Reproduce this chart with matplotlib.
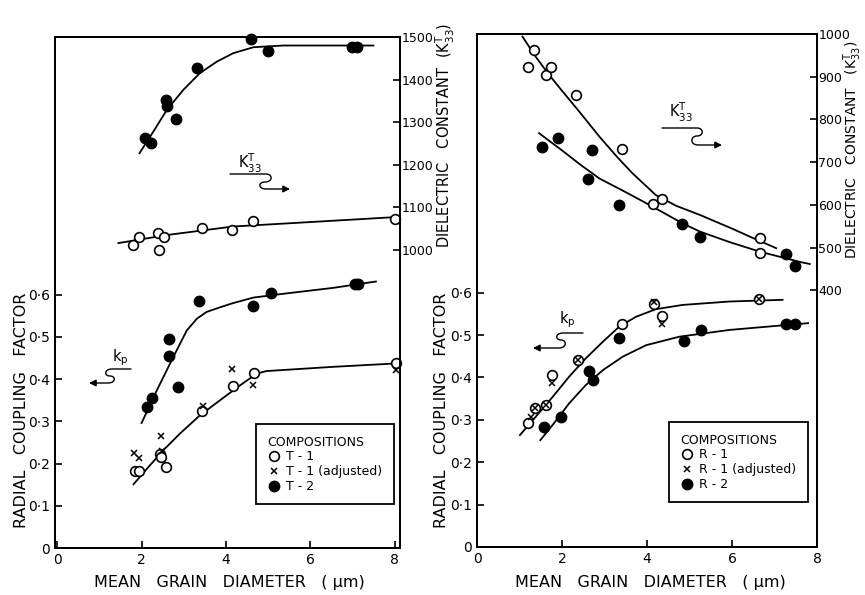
import matplotlib.pyplot as plt
import matplotlib.patches as mpatches
from matplotlib.path import Path

plt.rcParams['font.family'] = ['DejaVu Sans']
plt.rcParams['mathtext.fontset'] = 'dejavusans'

W, H = 865, 595

# ---- left panel (T compositions) ----
t2_k_x = [2.13, 2.25, 2.65, 2.65, 2.86, 3.36, 4.64, 5.07, 7.05, 7.12]
t2_k_y = [0.333, 0.355, 0.494, 0.454, 0.381, 0.584, 0.574, 0.605, 0.624, 0.624]
t1_k_x = [1.85, 1.94, 2.44, 2.46, 2.58, 3.43, 4.17, 4.66, 8.02]
t1_k_y = [0.182, 0.182, 0.222, 0.215, 0.191, 0.324, 0.383, 0.414, 0.437]
t1adj_k_x = [1.83, 1.94, 2.46, 2.49, 3.45, 4.14, 4.64, 8.02]
t1adj_k_y = [0.225, 0.213, 0.265, 0.229, 0.336, 0.423, 0.385, 0.421]
t2_d_x = [2.08, 2.22, 2.58, 2.60, 2.82, 3.31, 4.59, 4.99, 6.98, 7.10]
t2_d_y = [1263, 1251, 1352, 1338, 1307, 1427, 1495, 1467, 1477, 1477]
t1_d_x = [1.80, 1.94, 2.39, 2.41, 2.53, 3.43, 4.14, 4.64, 8.0]
t1_d_y = [1012, 1031, 1040, 1000, 1031, 1052, 1047, 1068, 1073]

# fitted curves
t2_k_cx = [2.00, 2.36, 2.75, 3.07, 3.31, 3.54, 3.86, 4.17, 4.65, 5.36, 6.54, 7.55]
t2_k_cy = [0.296, 0.373, 0.452, 0.515, 0.543, 0.559, 0.570, 0.580, 0.593, 0.602, 0.616, 0.631]
t1_k_cx = [1.81, 2.20, 2.52, 2.91, 3.38, 3.86, 4.33, 4.73, 4.96, 6.54, 8.02]
t1_k_cy = [0.151, 0.196, 0.232, 0.271, 0.314, 0.350, 0.385, 0.413, 0.419, 0.429, 0.437]
t2_d_cx = [1.95, 2.28, 2.60, 2.99, 3.38, 3.78, 4.17, 4.65, 5.36, 7.49]
t2_d_cy = [1227, 1278, 1329, 1376, 1415, 1442, 1462, 1476, 1480, 1480]
t1_d_cx = [1.45, 2.60, 4.17, 5.75, 8.0]
t1_d_cy = [1016, 1035, 1055, 1064, 1077]

# ---- right panel (R compositions) ----
r1_k_x = [1.20, 1.37, 1.63, 1.77, 2.38, 3.42, 4.17, 4.36, 6.63]
r1_k_y = [0.292, 0.327, 0.334, 0.405, 0.442, 0.527, 0.572, 0.544, 0.586]
r1adj_k_x = [1.27, 1.37, 1.63, 1.77, 2.38, 4.17, 4.36, 6.63]
r1adj_k_y = [0.306, 0.327, 0.334, 0.386, 0.442, 0.579, 0.527, 0.586]
r2_k_x = [1.58, 1.98, 2.64, 2.74, 3.35, 4.86, 5.26, 7.26, 7.48]
r2_k_y = [0.282, 0.306, 0.414, 0.395, 0.494, 0.485, 0.513, 0.525, 0.525]
r1_d_x = [1.20, 1.34, 1.63, 1.75, 2.33, 3.42, 4.15, 4.36, 6.67, 6.67]
r1_d_y = [923, 962, 904, 923, 857, 732, 603, 615, 523, 488]
r2_d_x = [1.53, 1.91, 2.62, 2.71, 3.33, 4.83, 5.24, 7.26, 7.48]
r2_d_y = [735, 756, 660, 728, 599, 556, 526, 486, 458]

r1_k_cx = [1.01, 1.38, 1.78, 2.17, 2.56, 2.96, 3.35, 3.74, 4.21, 4.84, 5.94, 7.19]
r1_k_cy = [0.264, 0.307, 0.354, 0.402, 0.445, 0.484, 0.520, 0.543, 0.561, 0.571, 0.579, 0.583]
r2_k_cx = [1.49, 1.78, 2.17, 2.56, 2.96, 3.43, 3.98, 4.76, 5.94, 7.79]
r2_k_cy = [0.252, 0.288, 0.339, 0.382, 0.417, 0.449, 0.476, 0.496, 0.512, 0.528]
r1_d_cx = [1.07, 1.38, 1.70, 2.01, 2.41, 2.88, 3.30, 3.66, 4.21, 4.69, 5.24, 6.02, 6.42, 7.04]
r1_d_cy = [994, 947, 904, 866, 818, 760, 712, 674, 623, 598, 577, 544, 526, 499]
r2_d_cx = [1.46, 2.01, 2.45, 2.88, 3.50, 4.06, 4.84, 5.24, 5.95, 6.65, 7.59, 7.83]
r2_d_cy = [768, 727, 693, 662, 630, 600, 557, 538, 513, 491, 467, 462]

x_ticks = [0, 2, 4, 6, 8]
k_ticks = [0, 0.1, 0.2, 0.3, 0.4, 0.5, 0.6]
k_labels = ['0', '0·1', '0·2', '0·3', '0·4', '0·5', '0·6']


def px(x, y):
    return x / W, 1 - y / H


def squiggle(fig, pts, codes):
    verts = [px(x, y) for x, y in pts]
    p = mpatches.FancyArrowPatch(path=Path(verts, codes), arrowstyle='-|>,head_length=4,head_width=2',
                                 transform=fig.transFigure, color='black', lw=1.0)
    fig.patches.append(p)


def style(ax):
    for s in ax.spines.values():
        s.set_linewidth(1.4)
    ax.tick_params(direction='in', length=5, width=1.2, labelsize=10)


fig = plt.figure(figsize=(W / 100, H / 100), dpi=100)

L, M, C = Path.LINETO, Path.MOVETO, Path.CURVE4
curve = dict(color='black', lw=1.3)
leg_kw = dict(loc='upper left', bbox_transform=fig.transFigure, title='COMPOSITIONS',
              fancybox=False, edgecolor='black', framealpha=1, fontsize=9, title_fontsize=9,
              handlelength=1.0, handletextpad=0.5, labelspacing=0.15, borderpad=0.9,
              alignment='left')

# left panel
ax1 = fig.add_axes([55 / W, 1 - 548 / H, 345 / W, 511 / H])
ax1b = ax1.twinx()
ax1.set_xlim(-0.05, 8.12)
ax1.set_ylim(0, 1.21)
ax1b.set_ylim(300, 1500)
ax1.set_xticks(x_ticks)
ax1.set_yticks(k_ticks)
ax1.set_yticklabels(k_labels)
ax1b.set_yticks([1000, 1100, 1200, 1300, 1400, 1500])
style(ax1)
style(ax1b)
ax1b.tick_params(pad=1, labelsize=9)

ax1.plot(t2_k_cx, t2_k_cy, **curve)
ax1.plot(t1_k_cx, t1_k_cy, **curve)
ax1b.plot(t2_d_cx, t2_d_cy, **curve)
ax1b.plot(t1_d_cx, t1_d_cy, **curve)
h1, = ax1.plot(t1_k_x, t1_k_y, 'o', ms=7, mfc='white', mec='black', mew=1.2, ls='none', clip_on=False)
h2, = ax1.plot(t1adj_k_x, t1adj_k_y, 'x', ms=4.5, color='black', mew=1.1, ls='none', clip_on=False)
h3, = ax1.plot(t2_k_x, t2_k_y, 'o', ms=7.5, color='black', ls='none', clip_on=False)
ax1b.plot(t2_d_x, t2_d_y, 'o', ms=7.5, color='black', ls='none', clip_on=False)
ax1b.plot(t1_d_x, t1_d_y, 'o', ms=7, mfc='white', mec='black', mew=1.2, ls='none', clip_on=False)

leg = ax1.legend([h1, h2, h3], ['T - 1', 'T - 1 (adjusted)', 'T - 2'],
                 bbox_to_anchor=px(250, 418), **leg_kw)
leg.get_frame().set_linewidth(1.3)

# right panel
ax2 = fig.add_axes([477 / W, 1 - 547 / H, 340 / W, 513 / H])
ax2b = ax2.twinx()
ax2.set_xlim(0, 8)
ax2.set_ylim(0, 1.21)
ax2b.set_ylim(-200, 1000)
ax2.set_xticks(x_ticks)
ax2.set_yticks(k_ticks)
ax2.set_yticklabels(k_labels)
ax2b.set_yticks([400, 500, 600, 700, 800, 900, 1000])
style(ax2)
style(ax2b)
ax2b.tick_params(pad=1, labelsize=9)

ax2.plot(r1_k_cx, r1_k_cy, **curve)
ax2.plot(r2_k_cx, r2_k_cy, **curve)
ax2b.plot(r1_d_cx, r1_d_cy, **curve)
ax2b.plot(r2_d_cx, r2_d_cy, **curve)
g1, = ax2.plot(r1_k_x, r1_k_y, 'o', ms=7, mfc='white', mec='black', mew=1.2, ls='none')
g2, = ax2.plot(r1adj_k_x, r1adj_k_y, 'x', ms=4.5, color='black', mew=1.1, ls='none')
g3, = ax2.plot(r2_k_x, r2_k_y, 'o', ms=7.5, color='black', ls='none')
ax2b.plot(r1_d_x, r1_d_y, 'o', ms=7, mfc='white', mec='black', mew=1.2, ls='none')
ax2b.plot(r2_d_x, r2_d_y, 'o', ms=7.5, color='black', ls='none')

leg2 = ax2.legend([g1, g2, g3], ['R - 1', 'R - 1 (adjusted)', 'R - 2'],
                  bbox_to_anchor=px(663, 416), **leg_kw)
leg2.get_frame().set_linewidth(1.3)

# axis titles
lab = dict(fontsize=11.5, color='black')
for cx in (229, 650):
    fig.text(*px(cx, 583), 'MEAN   GRAIN   DIAMETER   ( μm)', ha='center', va='center', **lab)
for cx in (22, 441):
    fig.text(*px(cx, 410), 'RADIAL   COUPLING   FACTOR', rotation=90, ha='center', va='center', **lab)
fig.text(*px(445, 135), r'DIELECTRIC   CONSTANT  ($\mathrm{K}_{33}^{\mathrm{T}}$)', rotation=90,
         ha='center', va='center', fontsize=10.5)
fig.text(*px(853, 150), r'DIELECTRIC   CONSTANT   ($\mathrm{K}_{33}^{\mathrm{T}}$)', rotation=90,
         ha='center', va='center', fontsize=10)

# K33 / kp annotations with squiggly arrows
fig.text(*px(250, 163), r'$\mathrm{K}_{33}^{\mathrm{T}}$', ha='center', va='center', fontsize=10.5)
squiggle(fig, [(230, 174), (266, 174), (273, 174), (273, 182), (265, 182),
               (258, 182), (258, 189), (266, 189), (290, 189)],
         [M, L, C, C, C, C, C, C, L])
fig.text(*px(120, 358), r'$\mathrm{k_p}$', ha='center', va='center', fontsize=10.5)
squiggle(fig, [(131, 369), (112, 369), (104, 369), (104, 376), (110, 376),
               (116, 376), (116, 383), (108, 383), (89, 383)],
         [M, L, C, C, C, C, C, C, L])
fig.text(*px(681, 112), r'$\mathrm{K}_{33}^{\mathrm{T}}$', ha='center', va='center', fontsize=10.5)
squiggle(fig, [(662, 128), (697, 128), (704, 128), (704, 136), (697, 136),
               (690, 136), (690, 145), (698, 145), (722, 145)],
         [M, L, C, C, C, C, C, C, L])
fig.text(*px(567, 320), r'$\mathrm{k_p}$', ha='center', va='center', fontsize=10.5)
squiggle(fig, [(583, 333), (563, 333), (555, 333), (555, 340), (561, 340),
               (567, 340), (567, 348), (559, 348), (533, 348)],
         [M, L, C, C, C, C, C, C, L])

fig.savefig('out.png', dpi=100)
